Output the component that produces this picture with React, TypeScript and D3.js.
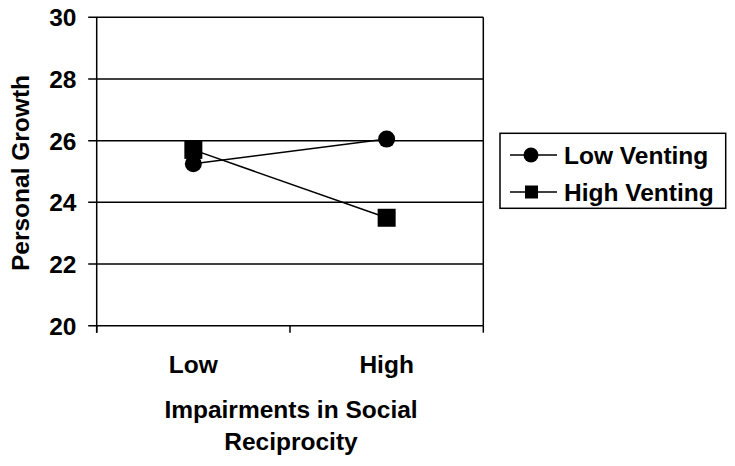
import React from 'react';
import * as d3 from 'd3';

const categories = ['Low', 'High'];
const lowVenting = [25.25, 26.05];
const highVenting = [25.7, 23.5];
const yTicks = [20, 22, 24, 26, 28, 30];
const seriesNames = ['Low Venting', 'High Venting'];

const W = 735;
const H = 466;
const font = '"Liberation Sans", Arial, sans-serif';
const fs = 24.5;

const App = () => {
  const left = 96.7;
  const right = 483.3;
  const top = 17.3;
  const bottom = 325.7;

  const x = d3.scaleBand<string>().domain(categories).range([left, right]);
  const y = d3.scaleLinear().domain([20, 30]).range([bottom, top]);
  const cx = (c: string) => (x(c) || 0) + x.bandwidth() / 2;

  const line = d3
    .line<number>()
    .x((_, i) => cx(categories[i]))
    .y((d) => y(d));

  const boundaries = [left, ...categories.map((c) => (x(c) || 0) + x.bandwidth())];

  return (
    <svg width={W} height={H} style={{ position: 'absolute', left: 0, top: 0, background: '#fff' }}>
      {/* gridlines + y ticks */}
      {yTicks.map((t) => (
        <g key={t}>
          <line x1={left - 8.5} x2={right} y1={y(t)} y2={y(t)} stroke="#000" strokeWidth={1.5} />
          <text
            x={76.5}
            y={y(t) + 9}
            textAnchor="end"
            fontFamily={font}
            fontWeight="bold"
            fontSize={fs}
          >
            {t}
          </text>
        </g>
      ))}
      {/* y axis */}
      <line x1={left} x2={left} y1={top} y2={bottom + 7} stroke="#000" strokeWidth={1.5} />
      {/* right border */}
      <line x1={right} x2={right} y1={top} y2={bottom} stroke="#000" strokeWidth={1.5} />
      {/* x ticks */}
      {boundaries.map((b, i) => (
        <line key={i} x1={b} x2={b} y1={bottom} y2={bottom + 7} stroke="#000" strokeWidth={1.5} />
      ))}
      {categories.map((c) => (
        <text
          key={c}
          x={cx(c)}
          y={372.5}
          textAnchor="middle"
          fontFamily={font}
          fontWeight="bold"
          fontSize={fs}
        >
          {c}
        </text>
      ))}
      {/* axis titles */}
      <text x={291} y={417.5} textAnchor="middle" fontFamily={font} fontWeight="bold" fontSize={fs}>
        Impairments in Social
      </text>
      <text x={291} y={449.5} textAnchor="middle" fontFamily={font} fontWeight="bold" fontSize={fs}>
        Reciprocity
      </text>
      <text
        transform={`translate(28.5,173) rotate(-90)`}
        textAnchor="middle"
        fontFamily={font}
        fontWeight="bold"
        fontSize={fs}
      >
        Personal Growth
      </text>

      {/* series lines */}
      <path d={line(lowVenting) || ''} fill="none" stroke="#000" strokeWidth={1.5} />
      <path d={line(highVenting) || ''} fill="none" stroke="#000" strokeWidth={1.5} />
      {/* markers */}
      {lowVenting.map((v, i) => (
        <circle key={'l' + i} cx={cx(categories[i])} cy={y(v)} r={8.5} fill="#000" />
      ))}
      {highVenting.map((v, i) => (
        <rect
          key={'h' + i}
          x={cx(categories[i]) - 9}
          y={y(v) - 9}
          width={18}
          height={18}
          fill="#000"
        />
      ))}

      {/* legend */}
      <rect x={500} y={133.3} width={225.7} height={75} fill="none" stroke="#000" strokeWidth={1.5} />
      {seriesNames.map((s, i) => {
        const ly = 155 + i * 37;
        return (
          <g key={s}>
            <line x1={510} x2={557} y1={ly} y2={ly} stroke="#000" strokeWidth={1.5} />
            {i === 0 ? (
              <circle cx={531} cy={ly} r={7.5} fill="#000" />
            ) : (
              <rect x={525} y={ly - 6.5} width={13} height={13} fill="#000" />
            )}
            <text x={564} y={ly + 8.5} fontFamily={font} fontWeight="bold" fontSize={fs}>
              {s}
            </text>
          </g>
        );
      })}
    </svg>
  );
};

export default App;
